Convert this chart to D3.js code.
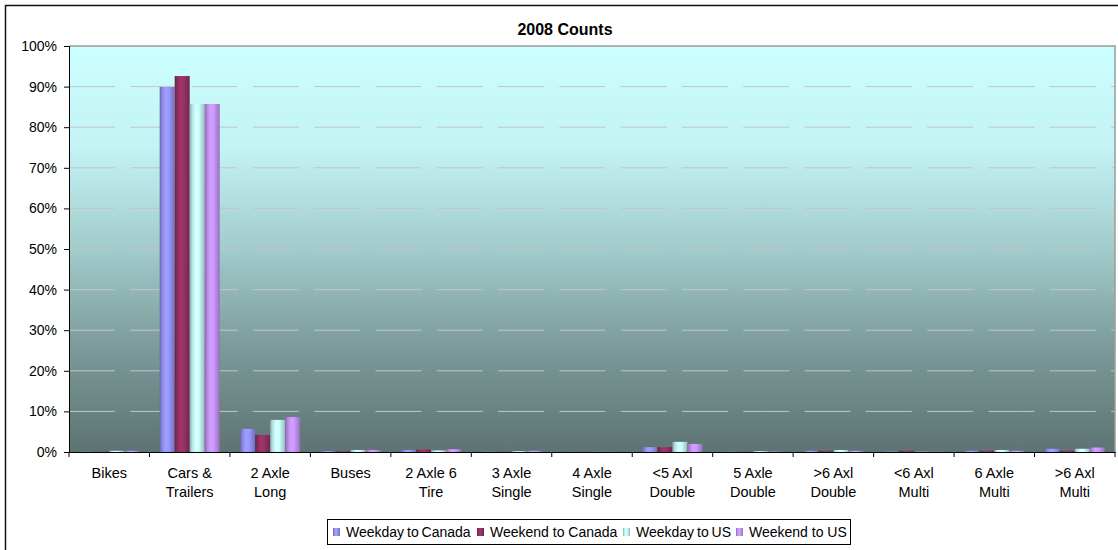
<!DOCTYPE html>
<html><head><meta charset="utf-8">
<script src="https://cdn.jsdelivr.net/npm/d3@7"></script>
<style>body{margin:0;background:#fff}svg{display:block;font-family:"Liberation Sans",Arial,sans-serif}</style>
</head><body><svg id="c" width="1118" height="550"></svg>
<script>
const categories = ["Bikes","Cars & Trailers","2 Axle Long","Buses","2 Axle 6 Tire","3 Axle Single","4 Axle Single","<5 Axl Double","5 Axle Double",">6 Axl Double","<6 Axl Multi","6 Axle Multi",">6 Axl Multi"];
const labelLines = [["Bikes"],["Cars &","Trailers"],["2 Axle","Long"],["Buses"],["2 Axle 6","Tire"],["3 Axle","Single"],["4 Axle","Single"],["<5 Axl","Double"],["5 Axle","Double"],[">6 Axl","Double"],["<6 Axl","Multi"],["6 Axle","Multi"],[">6 Axl","Multi"]];
const seriesNames = ["Weekday to Canada","Weekend to Canada","Weekday to US","Weekend to US"];
const weekdayCanada = [0.05, 89.9, 5.7, 0.2, 0.5, 0.05, 0.02, 1.2, 0.05, 0.3, 0.1, 0.3, 0.8];
const weekendCanada = [0.05, 92.6, 4.2, 0.2, 0.6, 0.05, 0.02, 1.2, 0.05, 0.3, 0.3, 0.3, 0.3];
const weekdayUS     = [0.3, 85.7, 7.9, 0.5, 0.4, 0.2, 0.02, 2.5, 0.2, 0.5, 0.05, 0.5, 0.8];
const weekendUS     = [0.3, 85.7, 8.6, 0.5, 0.7, 0.3, 0.02, 2.0, 0.1, 0.3, 0.05, 0.3, 1.1];
const seriesValues = [weekdayCanada, weekendCanada, weekdayUS, weekendUS];
const seriesColors = ["#9999FF","#993366","#CCFFFF","#CC99FF"];
const yTicks = [0,10,20,30,40,50,60,70,80,90,100];
const titleText = "2008 Counts";

const svg = d3.select("#c");
const P = {left:69, right:1115, top:46, bottom:452};
const defs = svg.append("defs");

// background gradient
const bg = defs.append("linearGradient").attr("id","bg").attr("x1",0).attr("y1",0).attr("x2",0).attr("y2",1);
[[0,"#CCFFFF"],[0.25,"#C3F3F3"],[0.5,"#A2CBCB"],[0.75,"#7A9998"],[1,"#5C7473"]].forEach(s=>bg.append("stop").attr("offset",s[0]).attr("stop-color",s[1]));

// bar gradients (cylinder look)
seriesColors.forEach((c,i)=>{
  const g = defs.append("linearGradient").attr("id","bar"+i).attr("x1",0).attr("y1",0).attr("x2",1).attr("y2",0);
  const base = d3.color(c);
  [[0,base.darker(1.1)],[0.18,base.darker(0.3)],[0.38,base.brighter(0.1)],[0.6,base],[0.85,base.darker(0.5)],[1,base.darker(0.9)]]
    .forEach(s=>g.append("stop").attr("offset",s[0]).attr("stop-color",s[1].formatHex()));
});

// outer border
svg.append("rect").attr("x",5.5).attr("y",5.5).attr("width",1200).attr("height",600)
  .attr("fill","#fff").attr("stroke","#111").attr("stroke-width",1.5);

// title
svg.append("text").attr("x",565).attr("y",35).attr("text-anchor","middle")
  .attr("font-weight","bold").attr("font-size",16).text(titleText);

const x = d3.scaleBand().domain(categories).range([P.left,P.right]).padding(0);
const barW = x.bandwidth()/5.36;
const xs = d3.scaleBand().domain(seriesNames)
  .range([(x.bandwidth()-4*barW)/2,(x.bandwidth()+4*barW)/2]).padding(0);
const y = d3.scaleLinear().domain([0,100]).range([P.bottom,P.top]);

// plot background
svg.append("rect").attr("x",P.left).attr("y",P.top).attr("width",P.right-P.left).attr("height",P.bottom-P.top)
  .attr("fill","url(#bg)");

// gridlines
svg.append("g").selectAll("line").data(yTicks.filter(t=>t>0&&t<100)).join("line")
  .attr("x1",P.left).attr("x2",P.right).attr("y1",d=>y(d)).attr("y2",d=>y(d))
  .attr("stroke","#C4C4C4").attr("stroke-width",1).attr("stroke-dasharray","46,15.3");

// bars
const gBars = svg.append("g");
seriesNames.forEach((s,i)=>{
  gBars.append("g").selectAll("rect").data(categories.map((c,j)=>({c,v:seriesValues[i][j]}))).join("rect")
    .attr("x",d=>x(d.c)+xs(s)).attr("width",xs.bandwidth())
    .attr("y",d=>y(d.v)).attr("height",d=>y(0)-y(d.v))
    .attr("fill","url(#bar"+i+")");
});

// plot border top/right
svg.append("path").attr("d",`M${P.left},${P.top}H${P.right}V${P.bottom}`)
  .attr("fill","none").attr("stroke","#9A9A9A").attr("stroke-width",1.5);

// y axis
const yAxis = svg.append("g").attr("transform",`translate(${P.left},0)`)
  .call(d3.axisLeft(y).tickValues(yTicks).tickSize(5).tickPadding(7).tickFormat(d=>d+"%"));
yAxis.select(".domain").attr("stroke","#000");
yAxis.selectAll("text").attr("font-size",14).attr("font-family","Liberation Sans, Arial, sans-serif").attr("fill","#000");

// x axis
const xAxis = svg.append("g").attr("transform",`translate(0,${P.bottom})`)
  .call(d3.axisBottom(x).tickSize(0).tickFormat(""));
xAxis.select(".domain").attr("stroke","#000");
const bounds = categories.map(c=>x(c)).concat([x.range()[1]]);
xAxis.selectAll(".bt").data(bounds).join("line").attr("class","bt")
  .attr("x1",d=>d).attr("x2",d=>d).attr("y1",0).attr("y2",5).attr("stroke","#000");
const lbl = svg.append("g").selectAll("text").data(categories).join("text")
  .attr("text-anchor","middle").attr("font-size",14.5).attr("fill","#000")
  .attr("x",c=>x(c)+x.bandwidth()/2).attr("y",478);
lbl.selectAll("tspan").data((c,i)=>labelLines[i].map((t,k)=>({t,k,c}))).join("tspan")
  .attr("x",d=>x(d.c)+x.bandwidth()/2).attr("dy",d=>d.k?19:0).text(d=>d.t);

// legend
const lg = svg.append("g");
const legendX = [333, 477, 623, 736];
lg.append("rect").attr("x",327.5).attr("y",519.5).attr("width",523).attr("height",25)
  .attr("fill","#fff").attr("stroke","#000").attr("stroke-width",1);
seriesNames.forEach((s,i)=>{
  lg.append("rect").attr("x",legendX[i]).attr("y",528).attr("width",7).attr("height",8).attr("fill","url(#bar"+i+")");
  lg.append("text").attr("x",legendX[i]+13).attr("y",536.5).attr("font-size",14)
    .attr("word-spacing", s.startsWith("Weekday") ? -1 : 0).text(s);
});
</script></body></html>
